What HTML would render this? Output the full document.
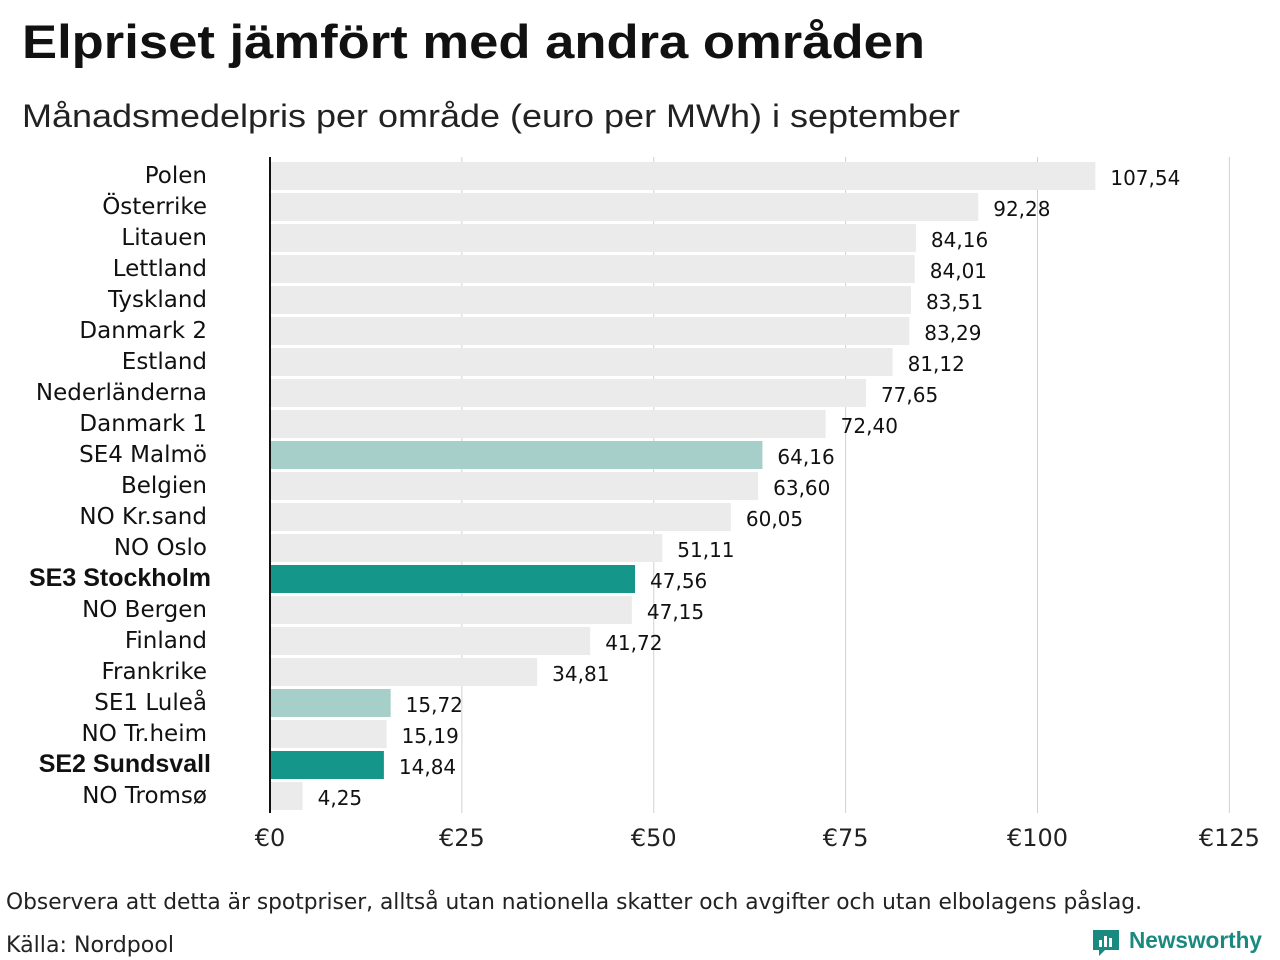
<!DOCTYPE html>
<html><head><meta charset="utf-8"><style>
html,body{margin:0;padding:0;background:#fff;}
svg{display:block;font-family:"DejaVu Sans","Liberation Sans",sans-serif;}
</style></head><body>
<svg id="chart" width="1280" height="960">
<text x="22" y="58" font-size="47" font-weight="bold" fill="#111" font-family="Liberation Sans, sans-serif" textLength="903" lengthAdjust="spacingAndGlyphs">Elpriset jämfört med andra områden</text>
<text x="22" y="127" font-size="32" fill="#222" font-family="Liberation Sans, sans-serif" textLength="938" lengthAdjust="spacingAndGlyphs">Månadsmedelpris per område (euro per MWh) i september</text>
<g id="grid"></g><g id="bars"></g><g id="labels"></g><g id="xticks"></g>
<line x1="270" y1="157" x2="270" y2="813" stroke="#111" stroke-width="2"/>
<text x="6" y="909" font-size="22" fill="#222" textLength="1136" lengthAdjust="spacingAndGlyphs">Observera att detta är spotpriser, alltså utan nationella skatter och avgifter och utan elbolagens påslag.</text>
<text x="6" y="952" font-size="22" fill="#222" textLength="168" lengthAdjust="spacingAndGlyphs">Källa: Nordpool</text>
<g>
<path d="M1093 930 h26 v20 h-14 l-6 6 v-6 h-6 z" fill="#1a8a80"/>
<rect x="1099" y="940" width="3" height="7" fill="#fff"/><rect x="1104" y="936" width="3" height="11" fill="#fff"/><rect x="1109" y="938" width="3" height="9" fill="#fff"/>
<text x="1129" y="948" font-size="23" font-weight="bold" fill="#1a8a80" font-family="Liberation Sans, sans-serif" textLength="133" lengthAdjust="spacingAndGlyphs">Newsworthy</text>
</g>
</svg>
<script>
const categories=["Polen","Österrike","Litauen","Lettland","Tyskland","Danmark  2","Estland","Nederländerna","Danmark  1","SE4  Malmö","Belgien","NO Kr.sand","NO Oslo","SE3 Stockholm","NO Bergen","Finland","Frankrike","SE1  Luleå","NO Tr.heim","SE2 Sundsvall","NO Tromsø"];
const values=[107.54,92.28,84.16,84.01,83.51,83.29,81.12,77.65,72.40,64.16,63.60,60.05,51.11,47.56,47.15,41.72,34.81,15.72,15.19,14.84,4.25];
const highlight=["","","","","","","","","","light","","","","dark","","","","light","","dark",""];
const ticks=[0,25,50,75,100,125];
const NS="http://www.w3.org/2000/svg";
const x=v=>270+v*7.675;
const y=i=>162+i*31;
function mk(tag,attrs,parent,txt){const e=document.createElementNS(NS,tag);for(const k in attrs)e.setAttribute(k,attrs[k]);if(txt!==undefined)e.textContent=txt;document.getElementById(parent).appendChild(e);return e;}
ticks.forEach(t=>{
 if(t>0){const g=mk('line',{x1:x(t),x2:x(t),y1:157,y2:813,stroke:'#d0d0d0','stroke-width':1},'grid');
 
 }
 const tl=mk('text',{x:x(t),y:846,'font-size':24,fill:'#222','text-anchor':'middle'},'xticks','€'+t);
 
 
});
categories.forEach((c,i)=>{
 const col=highlight[i]==='dark'?'#14968a':highlight[i]==='light'?'#a6cfc9':'#ebebeb';
 const b=mk('rect',{x:271,y:y(i),width:x(values[i])-271,height:28,fill:col},'bars');
 
 
 const bold=highlight[i]==='dark';
 const attrs={x:bold?211:207,y:y(i)+21,'font-size':bold?25:23,fill:'#111','text-anchor':'end','font-weight':bold?'bold':'normal'};
 if(bold)attrs['font-family']='Liberation Sans, sans-serif';
 const l=mk('text',attrs,'labels',c);
 
 
 const v=mk('text',{x:x(values[i])+15,y:y(i)+23,'font-size':20,fill:'#111'},'labels',values[i].toFixed(2).replace('.',','));
 
 
});
</script>
</body></html>
